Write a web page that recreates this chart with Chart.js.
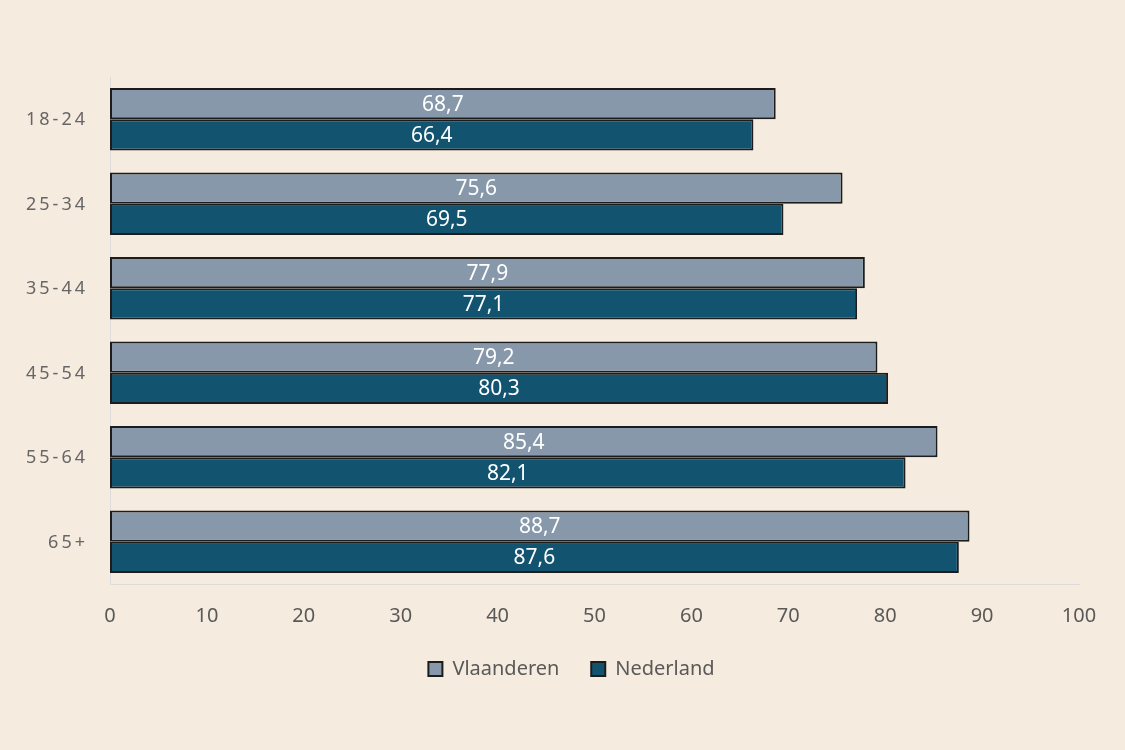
<!DOCTYPE html>
<html>
<head>
<meta charset="utf-8">
<script src="https://cdn.jsdelivr.net/npm/chart.js@4/dist/chart.umd.min.js"></script>
<style>
  html, body { margin: 0; padding: 0; background: #f5ebde; }
  #wrap { width: 1125px; height: 750px; }
</style>
</head>
<body>
<div id="wrap"><canvas id="chart"></canvas></div>
<script>
const ageGroups = ["18-24", "25-34", "35-44", "45-54", "55-64", "65+"];
const vlaanderen = [68.7, 75.6, 77.9, 79.2, 85.4, 88.7];
const nederland = [66.4, 69.5, 77.1, 80.3, 82.1, 87.6];
const xTicks = [0, 10, 20, 30, 40, 50, 60, 70, 80, 90, 100];

const FONT = "'Noto Sans', sans-serif";

// labels in het midden van elke balk
const barLabels = {
  id: "barLabels",
  afterDatasetsDraw(chart) {
    const ctx = chart.ctx;
    ctx.save();
    ctx.fillStyle = "#ffffff";
    ctx.font = "21px " + FONT;
    ctx.textAlign = "center";
    ctx.textBaseline = "middle";
    chart.data.datasets.forEach((ds, i) => {
      chart.getDatasetMeta(i).data.forEach((bar, j) => {
        const x = (bar.x + bar.base) / 2;
        ctx.fillText(ds.data[j].toFixed(1).replace(".", ","), x, bar.y + 1);
      });
    });
    ctx.restore();
  },
};

// categorie-labels met letterafstand
const spacedTicks = {
  id: "spacedTicks",
  afterDraw(chart) {
    const ctx = chart.ctx;
    const y = chart.scales.y;
    ctx.save();
    ctx.fillStyle = "#666666";
    ctx.font = "18px " + FONT;
    ctx.letterSpacing = "3px";
    ctx.textAlign = "right";
    ctx.textBaseline = "middle";
    ageGroups.forEach((g, i) => {
      ctx.fillText(g, y.right - 22, y.getPixelForValue(i) + 1);
    });
    ctx.restore();
  },
};

new Chart(document.getElementById("chart"), {
  type: "bar",
  data: {
    labels: ageGroups,
    datasets: [
      {
        label: "Vlaanderen",
        data: vlaanderen,
        backgroundColor: "#8798aa",
        borderColor: "#1c1c1c",
        borderWidth: 2,
        borderSkipped: false,
        categoryPercentage: 0.74,
        barPercentage: 1.0,
      },
      {
        label: "Nederland",
        data: nederland,
        backgroundColor: "#125470",
        borderColor: "#1c1c1c",
        borderWidth: 2,
        borderSkipped: false,
        categoryPercentage: 0.74,
        barPercentage: 1.0,
      },
    ],
  },
  plugins: [barLabels, spacedTicks],
  options: {
    indexAxis: "y",
    responsive: true,
    maintainAspectRatio: false,
    animation: false,
    layout: { padding: { top: 77, right: 46, bottom: 61, left: 64 } },
    plugins: {
      tooltip: { enabled: false },
      legend: {
        position: "bottom",
        labels: {
          color: "#595959",
          font: { family: FONT, size: 20 },
          boxWidth: 14,
          boxHeight: 14,
          padding: 11,
          generateLabels: (chart) => {
            const items = Chart.defaults.plugins.legend.labels.generateLabels(chart);
            items[0].text = items[0].text + "    ";
            return items;
          },
        },
      },
    },
    scales: {
      x: {
        min: 0,
        max: 100,
        afterBuildTicks: (s) => { s.ticks = xTicks.map((v) => ({ value: v })); },
        grid: { display: false, drawTicks: false },
        border: { color: "#dcdcdc", width: 1 },
        ticks: {
          color: "#595959",
          font: { family: FONT, size: 20 },
          padding: 20,
        },
      },
      y: {
        afterFit: (s) => { s.width = 46; },
        grid: { display: false, drawTicks: false },
        border: { color: "#dcdcdc", width: 1 },
        ticks: { display: false },
      },
    },
  },
});
</script>
</body>
</html>
